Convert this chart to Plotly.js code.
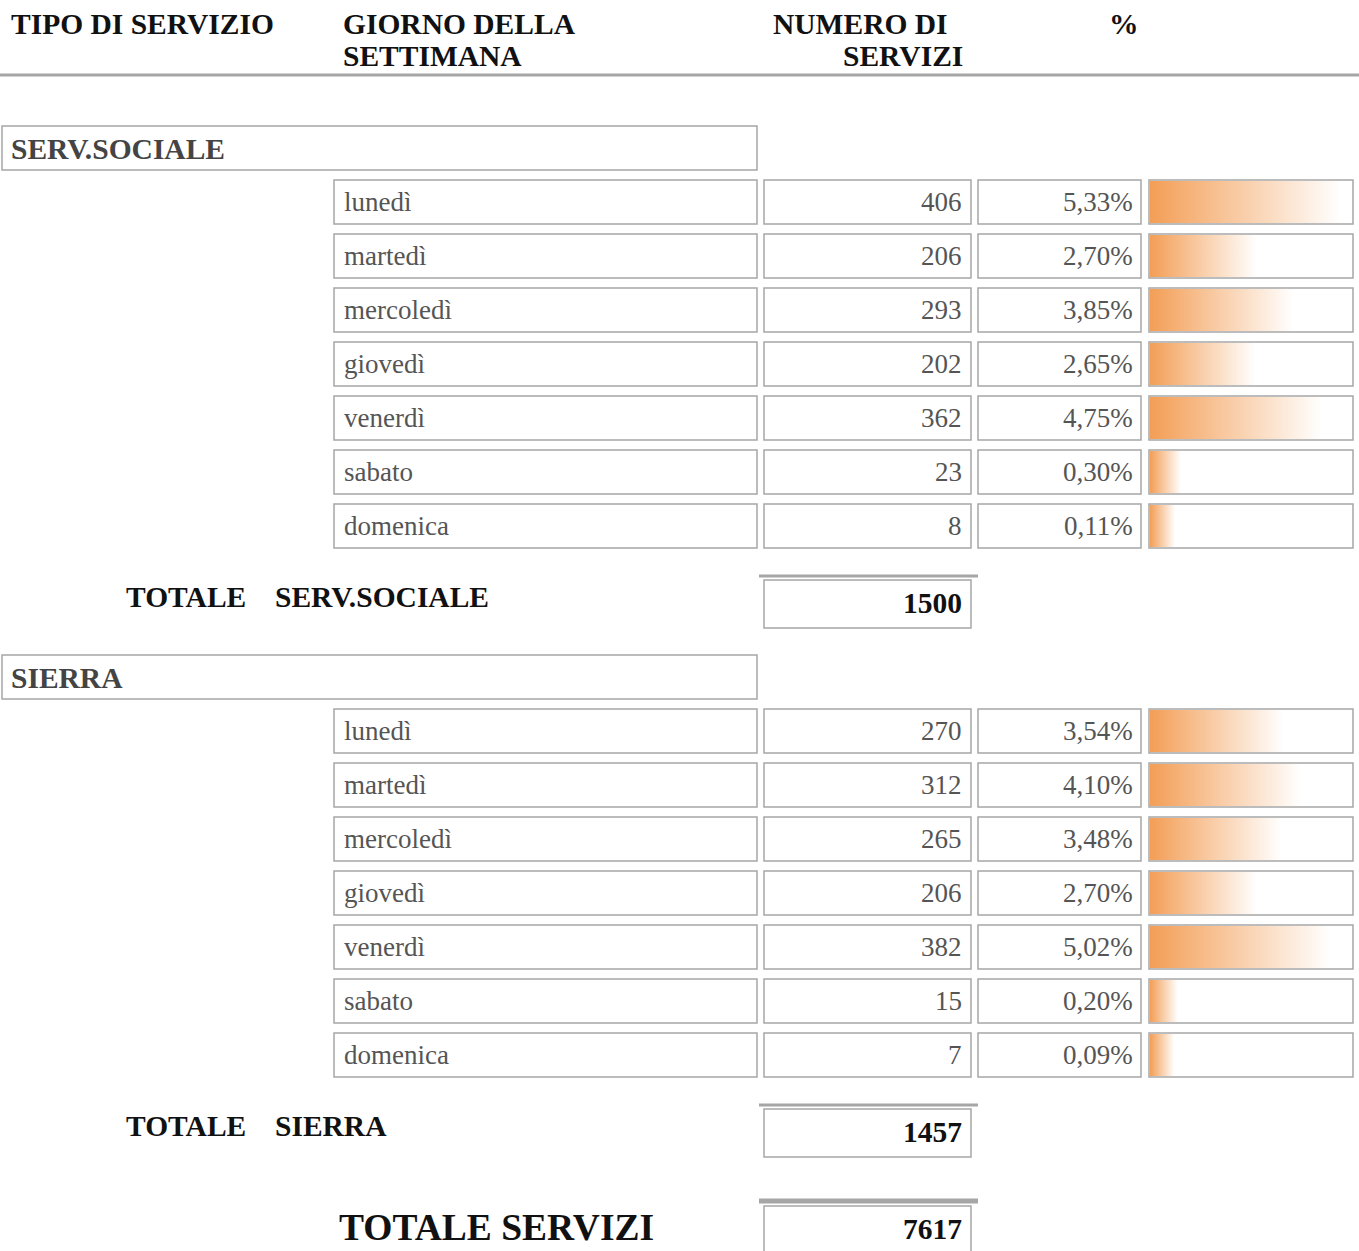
<!DOCTYPE html>
<html>
<head>
<meta charset="utf-8">
<script src="https://cdn.plot.ly/plotly-3.0.1.min.js"></script>
<style>html,body{margin:0;padding:0;background:#fff;}#chart{width:1359px;height:1251px;}</style>
</head>
<body>
<div id="chart"></div>
<script>
// ---------- DATA ----------
const headerTitles = ['TIPO DI SERVIZIO', 'GIORNO DELLA', 'SETTIMANA', 'NUMERO DI', 'SERVIZI', '%'];
const days = ['lunedì', 'martedì', 'mercoledì', 'giovedì', 'venerdì', 'sabato', 'domenica'];
const groupNames = ['SERV.SOCIALE', 'SIERRA'];
const servSocialeCounts = [406, 206, 293, 202, 362, 23, 8];
const servSocialePct = [5.33, 2.70, 3.85, 2.65, 4.75, 0.30, 0.11];
const sierraCounts = [270, 312, 265, 206, 382, 15, 7];
const sierraPct = [3.54, 4.10, 3.48, 2.70, 5.02, 0.20, 0.09];
const groupTotals = [1500, 1457];
const grandTotalLabel = 'TOTALE SERVIZI';
const grandTotal = 7617;

// ---------- LAYOUT CONSTANTS ----------
const W = 1359, H = 1251;
const groupTops = [126, 655];
const rowPitch = 54, rowH = 44;
const colDay = [334, 757], colNum = [764, 971], colPct = [978, 1141], colBar = [1149, 1353];
const boxLine = '#a6a6a6';
const bodyFont = {family: 'Liberation Serif, Times New Roman, serif', size: 27, color: '#555555'};
const boldFont = {family: 'Liberation Serif, Times New Roman, serif', size: 29.5, color: '#111111', weight: 700};

const seriesCounts = [servSocialeCounts, sierraCounts];
const seriesPct = [servSocialePct, sierraPct];

const shapes = [];
const annotations = [];
const traces = [];

function rect(x0, y0, x1, y1) {
  shapes.push({type: 'rect', xref: 'x', yref: 'y', x0, y0, x1, y1,
    line: {color: boxLine, width: 1.5}, fillcolor: 'rgba(0,0,0,0)', layer: 'above'});
}
function hline(x0, x1, y, w) {
  shapes.push({type: 'line', xref: 'x', yref: 'y', x0, x1, y0: y, y1: y,
    line: {color: '#a6a6a6', width: w}});
}
function text(t, x, y, anchor, font) {
  annotations.push({text: t, x, y, xref: 'x', yref: 'y', xanchor: anchor, yanchor: 'middle',
    showarrow: false, font: font, borderpad: 0});
}
function fmtPct(p) { return p.toFixed(2).replace('.', ',') + '%'; }

// header
text(headerTitles[0], 10, 24, 'left', boldFont);
text(headerTitles[1], 342, 24, 'left', boldFont);
text(headerTitles[2], 342, 56, 'left', boldFont);
text(headerTitles[3], 772, 24, 'left', boldFont);
text(headerTitles[4], 842, 56, 'left', boldFont);
text(headerTitles[5], 1108, 24, 'left', boldFont);
hline(0, W, 75, 3);

// bar scale: percent axis placed over the bar column
const barMin = -0.68;
const pxPerPct = 31.6;
const barMax = barMin + (colBar[1] - colBar[0] - 1) / pxPerPct;

groupNames.forEach((g, gi) => {
  const top = groupTops[gi];
  rect(2, top, 757, top + 44);
  text(g, 10, top + 23, 'left', Object.assign({}, boldFont, {color: '#444444'}));
  days.forEach((d, di) => {
    const y0 = top + rowPitch * (di + 1);
    const y1 = y0 + rowH;
    const yc = (y0 + y1) / 2;
    rect(colDay[0], y0, colDay[1], y1);
    rect(colNum[0], y0, colNum[1], y1);
    rect(colPct[0], y0, colPct[1], y1);
    rect(colBar[0], y0, colBar[1], y1);
    text(d, 343, yc, 'left', bodyFont);
    text(String(seriesCounts[gi][di]), 963, yc, 'right', bodyFont);
    text(fmtPct(seriesPct[gi][di]), 1134, yc, 'right', bodyFont);
    const v = seriesPct[gi][di];
    const by0 = y0 + 1, by1 = y1 - 1;
    traces.push({
      type: 'scatter', xaxis: 'x2', yaxis: 'y', mode: 'lines',
      x: [barMin, v, v, barMin, barMin], y: [by0, by0, by1, by1, by0],
      line: {width: 0, color: 'rgba(0,0,0,0)'}, fill: 'toself',
      fillgradient: {type: 'horizontal', colorscale: [[0, 'rgb(243,158,86)'], [1, 'rgb(255,255,255)']]},
      hoverinfo: 'skip', showlegend: false
    });
  });
  const rowsEnd = top + rowPitch * 7 + rowH;
  const lineY = rowsEnd + 28;
  hline(759, 978, lineY, 3);
  rect(colNum[0], lineY + 4, colNum[1], lineY + 52);
  text('TOTALE', 125, lineY + 21, 'left', boldFont);
  text(g, 274, lineY + 21, 'left', boldFont);
  text(String(groupTotals[gi]), 963, lineY + 27, 'right', boldFont);
});

// grand total
hline(759, 978, 1201, 5);
rect(colNum[0], 1206, colNum[1], 1256);
text(grandTotalLabel, 338, 1227, 'left', Object.assign({}, boldFont, {size: 37.5}));
text(String(grandTotal), 963, 1229, 'right', boldFont);

const layout = {
  width: W, height: H,
  margin: {l: 0, r: 0, t: 0, b: 0, pad: 0},
  paper_bgcolor: '#ffffff', plot_bgcolor: '#ffffff',
  showlegend: false, hovermode: false,
  xaxis: {range: [0, W], visible: false, fixedrange: true, domain: [0, 1]},
  xaxis2: {range: [barMin, barMax], visible: false, fixedrange: true,
    domain: [(colBar[0] + 1) / W, colBar[1] / W], anchor: 'y'},
  yaxis: {range: [H, 0], visible: false, fixedrange: true},
  shapes, annotations
};
// invisible anchor trace for the pixel axes
traces.unshift({type: 'scatter', x: [0, W], y: [0, H], mode: 'markers', marker: {opacity: 0}, hoverinfo: 'skip'});
Plotly.newPlot('chart', traces, layout, {staticPlot: true, displayModeBar: false});
</script>
</body>
</html>
